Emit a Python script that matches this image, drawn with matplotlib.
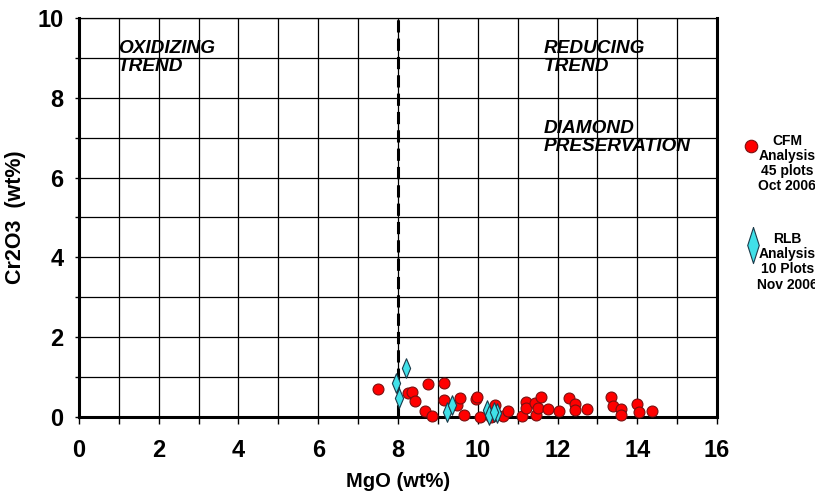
import matplotlib.pyplot as plt
from matplotlib.lines import Line2D
from matplotlib.ticker import MultipleLocator

plt.rcParams['font.family'] = ['Liberation Sans', 'DejaVu Sans']

# CFM analysis (red circles)
mgo_cfm = [7.50, 8.25, 8.35, 8.43, 8.68, 8.76, 8.84, 9.15, 9.16, 9.48,
           9.55, 9.65, 9.95, 9.97, 10.05, 10.32, 10.43, 10.64, 10.76, 11.10,
           11.21, 11.22, 11.43, 11.45, 11.50, 11.58, 11.75, 12.03, 12.29, 12.44,
           12.45, 12.73, 13.34, 13.40, 13.58, 13.58, 14.00, 14.05, 14.36]
cr_cfm = [0.69, 0.59, 0.63, 0.40, 0.15, 0.82, 0.02, 0.84, 0.43, 0.30,
          0.47, 0.05, 0.44, 0.51, 0.01, 0.01, 0.30, 0.03, 0.16, 0.03,
          0.38, 0.22, 0.34, 0.05, 0.22, 0.51, 0.19, 0.16, 0.47, 0.33,
          0.18, 0.19, 0.49, 0.28, 0.19, 0.05, 0.33, 0.13, 0.16]

# RLB analysis (cyan diamonds)
mgo_rlb = [8.19, 7.96, 8.02, 9.24, 9.35, 10.23, 10.28, 10.49, 10.40]
cr_rlb = [1.22, 0.84, 0.47, 0.13, 0.30, 0.18, 0.05, 0.09, 0.12]

cfm_label = 'CFM\nAnalysis\n45 plots\nOct 2006'
rlb_label = 'RLB\nAnalysis\n10 Plots\nNov 2006'

diamond = [(0, 1), (0.42, 0), (0, -1), (-0.42, 0), (0, 1)]
big_diamond = [(0, 1), (0.32, 0), (0, -1), (-0.32, 0), (0, 1)]

fig = plt.figure(figsize=(8.15, 4.98), dpi=100)
ax = fig.add_axes([0.0969, 0.1627, 0.7829, 0.8012])

ax.set_xlim(0, 16)
ax.set_ylim(0, 10)
ax.xaxis.set_major_locator(MultipleLocator(2))
ax.xaxis.set_minor_locator(MultipleLocator(1))
ax.yaxis.set_major_locator(MultipleLocator(2))
ax.yaxis.set_minor_locator(MultipleLocator(1))
ax.grid(True, which='both', color='black', lw=0.9)
ax.set_axisbelow(True)

for s in ['left', 'bottom', 'right']:
    ax.spines[s].set_linewidth(2.2)
ax.spines['top'].set_linewidth(0.9)

ax.tick_params(axis='x', which='both', direction='out', length=5, width=1)
ax.tick_params(axis='y', which='both', direction='out', length=3, width=1)
ax.tick_params(axis='x', which='major', pad=11, labelsize=17)
ax.tick_params(axis='y', which='major', pad=8, labelsize=17)
for lab in ax.get_xticklabels() + ax.get_yticklabels():
    lab.set_fontweight('bold')

ax.axvline(8, color='black', lw=2.2, dashes=(4, 2), zorder=3)

ax.scatter(mgo_cfm, cr_cfm, s=62, c='red', edgecolors='#7a1010',
           linewidths=0.8, zorder=4, clip_on=False)
ax.scatter(mgo_rlb, cr_rlb, s=200, marker=diamond, c='#40e0e8',
           edgecolors='#1a3a4a', linewidths=0.8, zorder=5, clip_on=False)

ax.set_xlabel('MgO (wt%)', fontsize=14.5, fontweight='bold', labelpad=7)
ax.set_ylabel('Cr2O3  (wt%)', fontsize=15.5, fontweight='bold', labelpad=8)

txt = dict(fontsize=13.7, fontweight='bold', style='italic', va='top',
           linespacing=1.12)
ax.text(0.98, 9.45, 'OXIDIZING\nTREND', **txt)
ax.text(11.65, 9.45, 'REDUCING\nTREND', **txt)
ax.text(11.65, 7.45, 'DIAMOND\nPRESERVATION', **txt)

# legend outside the axes
fig.add_artist(Line2D([0.9215], [0.707], transform=fig.transFigure,
                      marker='o', markersize=9, color='red',
                      markeredgecolor='#7a1010', markeredgewidth=0.8))
fig.add_artist(Line2D([0.924], [0.508], transform=fig.transFigure,
                      marker=big_diamond, markersize=26, color='#40e0e8',
                      markeredgecolor='#1a3a4a', markeredgewidth=0.8))
fig.text(0.966, 0.671, cfm_label, ha='center', va='center', fontsize=10,
         fontweight='bold', multialignment='center', linespacing=1.1)
fig.text(0.966, 0.474, rlb_label, ha='center', va='center', fontsize=10,
         fontweight='bold', multialignment='center', linespacing=1.1)

fig.savefig('out.png', dpi=100)
